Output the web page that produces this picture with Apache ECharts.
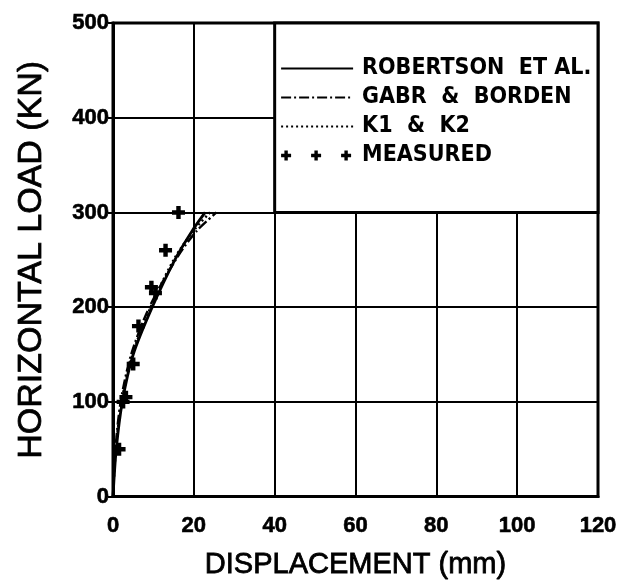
<!DOCTYPE html>
<html>
<head>
<meta charset="utf-8">
<script src="https://cdn.jsdelivr.net/npm/echarts@6/dist/echarts.min.js"></script>
<style>
html,body{margin:0;padding:0;background:#fff;}
#chart{width:629px;height:585px;}
</style>
</head>
<body>
<div id="chart"></div>
<script>
// ---- data ----
const xTicks = [0, 20, 40, 60, 80, 100, 120];
const yTicks = [0, 100, 200, 300, 400, 500];
const robertsonX = [0, 0.8, 2.3, 5.0, 9.7, 15.3, 19.5, 22.8];
const robertsonY = [0, 50, 100, 150, 200, 250, 280, 300];
const gabrX = [0, 0.6, 1.9, 4.5, 9.0, 15.5, 20.6, 25.6];
const gabrY = [0, 50, 100, 150, 200, 250, 280, 300];
const k1k2X = [0, 0.7, 2.1, 4.8, 9.3, 15.0, 19.8, 24.0];
const k1k2Y = [0, 50, 100, 150, 200, 250, 280, 300];
const measuredX = [1.5, 2.5, 3.2, 5.0, 6.3, 9.5, 10.5, 13.0, 16.2];
const measuredY = [50, 100, 105, 140, 180, 221, 215, 260, 300];
const seriesNames = ['ROBERTSON  ET AL.', 'GABR  &  BORDEN', 'K1  &  K2', 'MEASURED'];

const pairs = (xs, ys) => xs.map((x, i) => [x, ys[i]]);

const COND = '"DejaVu Sans Condensed", "Liberation Sans Narrow", "Liberation Sans", sans-serif';
const SANS = '"Liberation Sans", Arial, sans-serif';

const plusPath = 'path://M3.3,0 H6.7 V3.3 H10 V6.7 H6.7 V10 H3.3 V6.7 H0 V3.3 H3.3 Z';
const threePlus = 'path://M72,5 L72,5.01 Z ' +
  [5, 35, 65].map(c =>
    `M${c-1.7},0 H${c+1.7} V3.3 H${c+5} V6.7 H${c+1.7} V10 H${c-1.7} V6.7 H${c-5} V3.3 H${c-1.7} Z`
  ).join(' ');

const chart = echarts.init(document.getElementById('chart'), null, {renderer: 'canvas'});
chart.setOption({
  animation: false,
  backgroundColor: '#fff',
  grid: {left: 113, right: 31, top: 23, bottom: 82, show: true, borderColor: '#000', borderWidth: 3, backgroundColor: 'transparent'},
  legend: {
    orient: 'vertical',
    left: 275, top: 52,
    itemWidth: 72, itemHeight: 10, itemGap: 6,
    textStyle: {fontFamily: COND, fontWeight: 'bold', fontSize: 23, color: '#000', padding: [0,0,0,4]},
    data: [
      {name: seriesNames[0], itemStyle: {opacity: 0}, lineStyle: {width: 2.2}},
      {name: seriesNames[1], itemStyle: {opacity: 0}, lineStyle: {width: 2.2}},
      {name: seriesNames[2], itemStyle: {opacity: 0}, lineStyle: {width: 2}},
      {name: seriesNames[3], icon: threePlus, itemStyle: {color: '#000', opacity: 1}}
    ]
  },
  xAxis: {
    type: 'value', min: 0, max: 120, interval: 20,
    name: 'DISPLACEMENT (mm)', nameLocation: 'middle', nameGap: 54,
    nameTextStyle: {fontFamily: SANS, fontSize: 29, color: '#000', textBorderColor: '#000', textBorderWidth: 0.8},
    axisLine: {show: true, lineStyle: {color: '#000', width: 3}},
    axisTick: {show: false},
    axisLabel: {margin: 18, fontFamily: SANS, fontWeight: 'bold', fontSize: 22, color: '#000',
      textBorderColor: '#000', textBorderWidth: 0.6,
      formatter: v => xTicks.includes(v) ? String(v) : ''},
    splitLine: {show: true, lineStyle: {color: '#000', width: 2}}
  },
  yAxis: {
    type: 'value', min: 0, max: 500, interval: 100,
    name: 'HORIZONTAL LOAD (KN)', nameLocation: 'middle', nameGap: 64, nameRotate: 90,
    nameTextStyle: {fontFamily: SANS, fontSize: 34, color: '#000', textBorderColor: '#000', textBorderWidth: 0.8},
    axisLine: {show: true, lineStyle: {color: '#000', width: 3}},
    axisTick: {show: true, length: 5, lineStyle: {color: '#000', width: 2}},
    axisLabel: {margin: 4, fontFamily: SANS, fontWeight: 'bold', fontSize: 22, color: '#000',
      textBorderColor: '#000', textBorderWidth: 0.6,
      formatter: v => yTicks.includes(v) ? String(v) : ''},
    splitLine: {show: true, lineStyle: {color: '#000', width: 2}}
  },
  series: [
    {
      name: seriesNames[0], type: 'line', data: pairs(robertsonX, robertsonY),
      smooth: 0.3, symbol: 'none', color: '#000',
      lineStyle: {color: '#000', width: 2.8, type: 'solid'},
      markArea: {
        silent: true,
        itemStyle: {color: '#fff', borderColor: '#000', borderWidth: 3},
        data: [[{coord: [40, 300]}, {coord: [120, 500]}]]
      },
      z: 3
    },
    {
      name: seriesNames[1], type: 'line', data: pairs(gabrX, gabrY),
      smooth: 0.3, symbol: 'none', color: '#000',
      lineStyle: {color: '#000', width: 2.4, type: [10, 3, 2, 3]},
      z: 4
    },
    {
      name: seriesNames[2], type: 'line', data: pairs(k1k2X, k1k2Y),
      smooth: 0.3, symbol: 'none', color: '#000',
      lineStyle: {color: '#000', width: 2.4, type: [2, 3]},
      z: 4
    },
    {
      name: seriesNames[3], type: 'scatter', data: pairs(measuredX, measuredY),
      symbol: plusPath, symbolSize: 13, itemStyle: {color: '#000', opacity: 1}, z: 5
    }
  ]
});
</script>
</body>
</html>
